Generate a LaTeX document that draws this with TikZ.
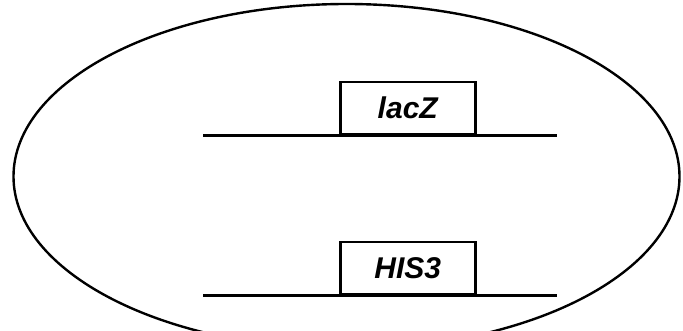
\documentclass[tikz,border=0pt]{standalone}
\usepackage{fontspec}
\setmainfont{Liberation Sans}
\begin{document}
\begin{tikzpicture}[x=1pt,y=-1pt,
  cell/.style={line width=2.4pt},
  strand/.style={line width=2.8pt},
  gene/.style={draw, line width=2.5pt, minimum width=135pt, minimum height=52pt,
    anchor=south west, inner sep=0pt, font=\fontsize{30}{32}\selectfont\bfseries\itshape}]
\useasboundingbox (0,0) rectangle (683,331);
\fill[white] (0,0) rectangle (683,331);
% the cell, cut off by the lower edge
\begin{scope}
\clip (0,0) rectangle (683,331);
\draw[cell] (346.5,176.5) ellipse [x radius=333, y radius=172.5];
\end{scope}
% upper locus
\coordinate (a1) at (203,135.5);
\coordinate (a2) at (557,135.5);
\node[gene] (lacz) at (339,135.5) {lacZ};
\draw[strand] (a1) -- (a2);
% lower locus
\coordinate (b1) at (203,295.5);
\coordinate (b2) at (557,295.5);
\node[gene] (his) at (339,295.5) {HIS3};
\draw[strand] (b1) -- (b2);
\end{tikzpicture}
\end{document}
